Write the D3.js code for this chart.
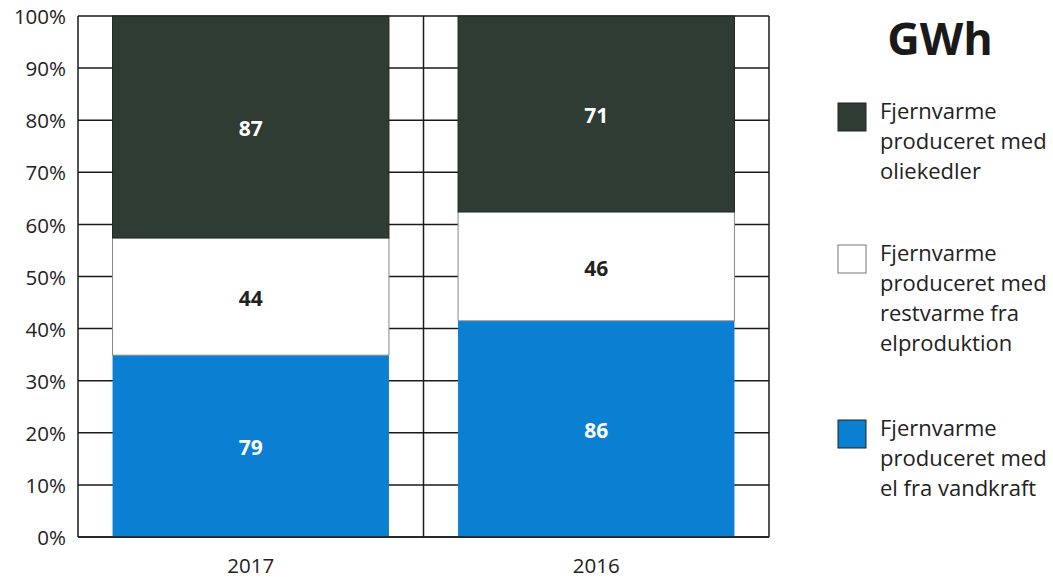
<!DOCTYPE html>
<html><head><meta charset="utf-8">
<script src="https://cdn.jsdelivr.net/npm/d3@7"></script>
<style>body{margin:0;background:#fff}svg{display:block}</style>
</head><body>
<svg id="c" width="1053" height="579"></svg>
<script>
const years = ["2017", "2016"];
// GWh labels
const oilGWh = [87, 71];
const restGWh = [44, 46];
const hydroGWh = [79, 86];
// share of bar height in percent
const hydroPct = [34.9, 41.5];
const restPct = [22.5, 20.9];
const oilPct = [42.6, 37.6];
const yTicks = [0,10,20,30,40,50,60,70,80,90,100];
const legendLabels = [
  ["Fjernvarme","produceret med","oliekedler"],
  ["Fjernvarme","produceret med","restvarme fra","elproduktion"],
  ["Fjernvarme","produceret med","el fra vandkraft"]
];
const colors = {oil:"#2f3c34", rest:"#ffffff", hydro:"#0b80d2"};

const svg = d3.select("#c");
const L=78, R=769, T=16, B=537;
const x = d3.scaleBand().domain(years).range([L,R]).paddingInner(0.2).paddingOuter(0.1);
const y = d3.scaleLinear().domain([0,100]).range([B,T]);
const font = "'Open Sans', sans-serif";

// gridlines
svg.append("g").selectAll("line").data(yTicks).join("line")
  .attr("x1",L).attr("x2",R).attr("y1",d=>y(d)).attr("y2",d=>y(d))
  .attr("stroke","#1a1a1a").attr("stroke-width",1.5);
// frame & middle divider
svg.append("line").attr("x1",L).attr("x2",L).attr("y1",T).attr("y2",B).attr("stroke","#1a1a1a").attr("stroke-width",1.5);
svg.append("line").attr("x1",R).attr("x2",R).attr("y1",T).attr("y2",B).attr("stroke","#1a1a1a").attr("stroke-width",1.5);
svg.append("line").attr("x1",(L+R)/2).attr("x2",(L+R)/2).attr("y1",T).attr("y2",B).attr("stroke","#1a1a1a").attr("stroke-width",1.5);

// stacked data
const rows = years.map((yr,i)=>({year:yr, hydro:hydroPct[i], rest:restPct[i], oil:oilPct[i],
  labels:{hydro:hydroGWh[i], rest:restGWh[i], oil:oilGWh[i]}}));
const keys = ["hydro","rest","oil"];
const stack = d3.stack().keys(keys)(rows);

const g = svg.append("g");
stack.forEach(layer=>{
  const k = layer.key;
  g.selectAll(null).data(layer).join("rect")
    .attr("x",d=>x(d.data.year)).attr("width",x.bandwidth())
    .attr("y",d=>y(d[1])).attr("height",d=>y(d[0])-y(d[1]))
    .attr("fill",colors[k])
    .attr("stroke", k==="hydro" ? "none" : (k==="oil" ? "#1c2520" : "#888"))
    .attr("stroke-width",1);
  g.selectAll(null).data(layer).join("text")
    .attr("x",d=>x(d.data.year)+x.bandwidth()/2)
    .attr("y",d=>(y(d[0])+y(d[1]))/2+2)
    .attr("dy","0.35em").attr("text-anchor","middle")
    .attr("font-family",font).attr("font-weight","bold").attr("font-size",21)
    .attr("fill", k==="rest" ? "#222" : "#fff")
    .text(d=>d.data.labels[k]);
});
// bottom axis line on top
svg.append("line").attr("x1",L).attr("x2",R).attr("y1",B).attr("y2",B).attr("stroke","#1a1a1a").attr("stroke-width",1.5);

// y tick labels
svg.append("g").selectAll("text").data(yTicks).join("text")
  .attr("x",66).attr("y",d=>y(d)+1).attr("dy","0.35em").attr("text-anchor","end")
  .attr("font-family",font).attr("font-size",20.5).attr("fill","#222")
  .text(d=>d+"%");
// x labels
svg.append("g").selectAll("text").data(years).join("text")
  .attr("x",d=>x(d)+x.bandwidth()/2).attr("y",573).attr("text-anchor","middle")
  .attr("font-family",font).attr("font-size",20.5).attr("fill","#222")
  .text(d=>d);

// legend
svg.append("text").attr("x",940).attr("y",55).attr("text-anchor","middle")
  .attr("font-family",font).attr("font-weight","bold").attr("font-size",45).attr("fill","#1a1a1a").text("GWh");
const legKeys = ["oil","rest","hydro"];
const legY = [103,245,420];
legKeys.forEach((k,i)=>{
  svg.append("rect").attr("x",838).attr("y",legY[i]).attr("width",28).attr("height",28)
    .attr("fill",colors[k]).attr("stroke", k==="rest" ? "#777" : "#222").attr("stroke-width",1);
  const t = svg.append("text").attr("font-family",font).attr("font-size",22).attr("fill","#222");
  legendLabels[i].forEach((line,j)=>{
    t.append("tspan").attr("x",880).attr("y",legY[i]+16+j*30).text(line);
  });
});
</script>
</body></html>
